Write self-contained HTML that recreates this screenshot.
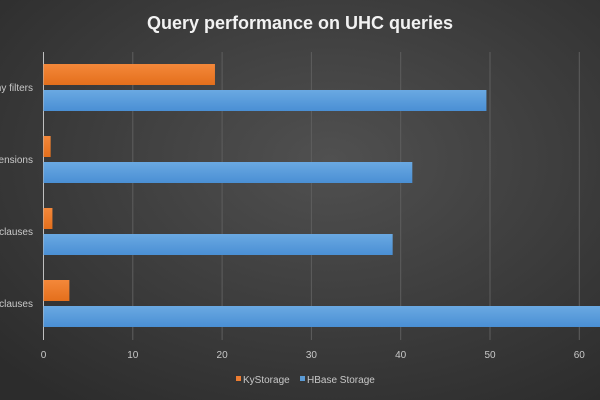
<!DOCTYPE html>
<html><head><meta charset="utf-8"><style>
html,body{margin:0;padding:0;width:600px;height:400px;overflow:hidden;background:#3a3a3a}
svg{display:block;font-family:"Liberation Sans",sans-serif}
</style></head><body>
<svg id="chart" width="600" height="400">
<defs>
<radialGradient id="bg" cx="0.55" cy="0.4" r="0.75">
<stop offset="0" stop-color="#505050"/><stop offset="1" stop-color="#2c2c2c"/></radialGradient>
<linearGradient id="og" x1="0" y1="0" x2="0" y2="1"><stop offset="0" stop-color="#f4883a"/><stop offset="1" stop-color="#e46f1c"/></linearGradient>
<linearGradient id="bgr" x1="0" y1="0" x2="0" y2="1"><stop offset="0" stop-color="#6aa9e2"/><stop offset="1" stop-color="#4a8fd4"/></linearGradient>
</defs>
<rect width="600" height="400" fill="url(#bg)"/>
<text x="300" y="29" text-anchor="middle" fill="#f2f2f2" font-size="18" font-weight="bold">Query performance on UHC queries</text>
<g id="grid"></g><g id="bars"></g><g id="labels"></g>
<g>
<rect x="236" y="376" width="5" height="5" fill="#ed7d31"/>
<text x="243" y="383" fill="#c8c8c8" font-size="10">KyStorage</text>
<rect x="300" y="376" width="5" height="5" fill="#5b9bd5"/>
<text x="307" y="383" fill="#c8c8c8" font-size="10">HBase Storage</text>
</g>
</svg>
<script>
const categories = ["Query with many filters","Query with UHC dimensions","Query with IN clauses","Query with LIKE clauses"];
const kyValues = [19.2, 0.8, 1.0, 2.9];
const hbaseValues = [49.6, 41.3, 39.1, 65];
const ticks = [0,10,20,30,40,50,60];
const NS="http://www.w3.org/2000/svg";
const x0=43.5, pxPer=8.93, plotTop=52, plotBottom=340, groupH=72, firstY=64;
const xs=v=>x0+v*pxPer;
function mk(tag,attrs,parent){const e=document.createElementNS(NS,tag);for(const k in attrs)e.setAttribute(k,attrs[k]);parent.appendChild(e);return e;}
const grid=document.getElementById('grid'),bars=document.getElementById('bars'),labels=document.getElementById('labels');
ticks.forEach((t,i)=>{
  const l=mk('line',{x1:xs(t),x2:xs(t),y1:plotTop,y2:plotBottom,stroke:i===0?'#bfbfbf':'#5e5e5e','stroke-width':1},grid);
  
  
  const tx=mk('text',{x:xs(t),y:358,'text-anchor':'middle',fill:'#c8c8c8','font-size':10},grid);
  tx.textContent=t;
  
  
});
categories.forEach((c,i)=>{
  const y=firstY+i*groupH;
  const o=mk('rect',{x:x0,y:y,width:xs(kyValues[i])-x0,height:21,fill:'url(#og)'},bars);
  
  
  const b=mk('rect',{x:x0,y:y+26,width:xs(hbaseValues[i])-x0,height:21,fill:'url(#bgr)'},bars);
  
  
  const t=mk('text',{x:33,y:y+27,'text-anchor':'end',fill:'#c8c8c8','font-size':10},labels);
  t.textContent=c;
  
  
});
</script>
</body></html>
